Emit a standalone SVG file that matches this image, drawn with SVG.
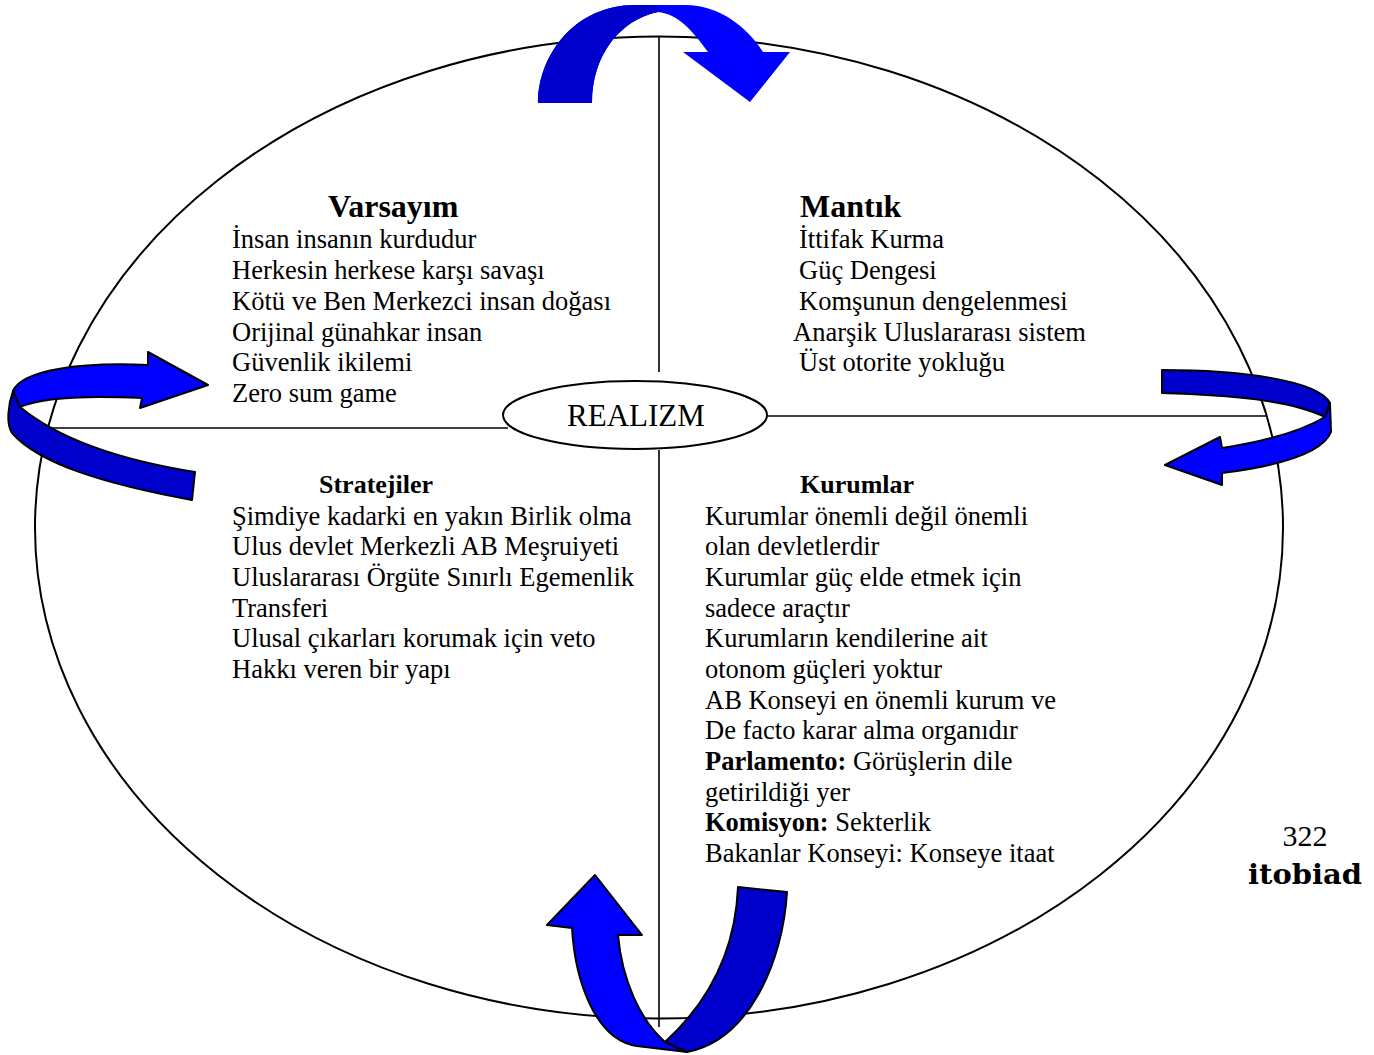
<svg xmlns="http://www.w3.org/2000/svg" width="1374" height="1055" viewBox="0 0 1374 1055">
<style>
text{font-family:"Liberation Serif","Times New Roman",serif;fill:#000}
.b{font-size:26.5px}
.h{font-size:32px;font-weight:bold}
.h2{font-size:26px;font-weight:bold}
.ln{stroke:#000;stroke-width:1.6;fill:none}
.bright{fill:#0000FF}
.dark{fill:#0000CC}
.ol{stroke:#000;stroke-width:2;stroke-linejoin:round}
</style>
<rect width="1374" height="1055" fill="#fff"/>
<g id="frame">
<ellipse cx="659" cy="527.5" rx="624" ry="491" fill="none" stroke="#000" stroke-width="2"/>
</g>
<g id="connectors">
<line class="ln" x1="659" y1="36" x2="659" y2="372"/>
<line class="ln" x1="659" y1="450" x2="659" y2="1027"/>
<line class="ln" x1="47" y1="428" x2="508" y2="428"/>
<line class="ln" x1="766" y1="416" x2="1267" y2="416"/>
</g>
<g id="realizm">
<ellipse cx="635" cy="415" rx="132" ry="34" fill="#fff" stroke="#000" stroke-width="2"/>
<text x="636" y="426" font-size="31" text-anchor="middle">REALIZM</text>
</g>
<g id="varsayim">
<text class="h" x="328" y="217">Varsayım</text>
<text class="b" x="232" y="248">İnsan insanın kurdudur</text>
<text class="b" x="232" y="279">Herkesin herkese karşı savaşı</text>
<text class="b" x="232" y="310">Kötü ve Ben Merkezci insan doğası</text>
<text class="b" x="232" y="341">Orijinal günahkar insan</text>
<text class="b" x="232" y="371">Güvenlik ikilemi</text>
<text class="b" x="232" y="402">Zero sum game</text>
</g>
<g id="mantik">
<text class="h" x="800" y="217">Mantık</text>
<text class="b" x="799" y="248">İttifak Kurma</text>
<text class="b" x="799" y="279">Güç Dengesi</text>
<text class="b" x="799" y="310">Komşunun dengelenmesi</text>
<text class="b" x="793" y="341">Anarşik Uluslararası sistem</text>
<text class="b" x="799" y="371">Üst otorite yokluğu</text>
</g>
<g id="stratejiler">
<text class="h2" x="319" y="493">Stratejiler</text>
<text class="b" x="232" y="525">Şimdiye kadarki en yakın Birlik olma</text>
<text class="b" x="232" y="555">Ulus devlet Merkezli AB Meşruiyeti</text>
<text class="b" x="232" y="586">Uluslararası Örgüte Sınırlı Egemenlik</text>
<text class="b" x="232" y="617">Transferi</text>
<text class="b" x="232" y="647">Ulusal çıkarları korumak için veto</text>
<text class="b" x="232" y="678">Hakkı veren bir yapı</text>
</g>
<g id="kurumlar">
<text class="h2" x="800" y="493">Kurumlar</text>
<text class="b" x="705" y="525">Kurumlar önemli değil önemli</text>
<text class="b" x="705" y="555">olan devletlerdir</text>
<text class="b" x="705" y="586">Kurumlar güç elde etmek için</text>
<text class="b" x="705" y="617">sadece araçtır</text>
<text class="b" x="705" y="647">Kurumların kendilerine ait</text>
<text class="b" x="705" y="678">otonom güçleri yoktur</text>
<text class="b" x="705" y="709">AB Konseyi en önemli kurum ve</text>
<text class="b" x="705" y="739">De facto karar alma organıdır</text>
<text class="b" x="705" y="770"><tspan font-weight="bold">Parlamento:</tspan> Görüşlerin dile</text>
<text class="b" x="705" y="801">getirildiği yer</text>
<text class="b" x="705" y="831"><tspan font-weight="bold">Komisyon:</tspan> Sekterlik</text>
<text class="b" x="705" y="862">Bakanlar Konseyi: Konseye itaat</text>
</g>
<g id="arrow-top">
<path class="bright" d="M538,103 C538,55 575,5 635,5 L685,5 C720,5 748,28 763,52 L790,52 L750,102 L683,52 L708,52 C692,30 678,14 658,12 C620,20 592,55 592,103 Z"/>
<path class="dark" d="M538,103 C538,55 575,5 635,5 L656,5 L658,12 C620,20 592,55 592,103 Z"/>
</g>
<g id="arrow-left">
<path class="dark ol" d="M13,391 L20,407 C60,440 120,460 195,472 L192,500 C110,485 40,465 12,433 C6,424 8,405 13,391 Z"/>
<path class="bright ol" d="M13,391 C22,370 80,362 148,365 L148,352 L208,385 L140,408 L142,398 C80,395 40,398 20,407 Z"/>
</g>
<g id="arrow-right">
<path class="dark ol" d="M1162,370 C1240,370 1318,380 1330,403 L1325,417 C1290,400 1230,395 1162,393 Z"/>
<path class="bright ol" d="M1325,417 C1300,432 1260,442 1222,448 L1220,437 L1165,465 L1222,485 L1222,473 C1270,467 1322,455 1331,432 L1330,403 Z"/>
</g>
<g id="arrow-bottom">
<path class="bright ol" d="M572,928 C575,980 595,1040 637,1046 L687,1052 L665,1042 C640,1020 622,980 618,935 L642,935 L595,875 L547,925 Z"/>
<path class="dark ol" d="M738,887 L787,892 C783,960 750,1040 687,1052 L665,1042 C700,1010 735,960 738,887 Z"/>
</g>
<g id="footer">
<text x="1305" y="846" font-size="30" text-anchor="middle">322</text>
<text x="1248" y="884" font-size="28" font-weight="bold" textLength="114" lengthAdjust="spacingAndGlyphs" style="font-family:'DejaVu Serif',serif">itobiad</text>
</g>
</svg>
